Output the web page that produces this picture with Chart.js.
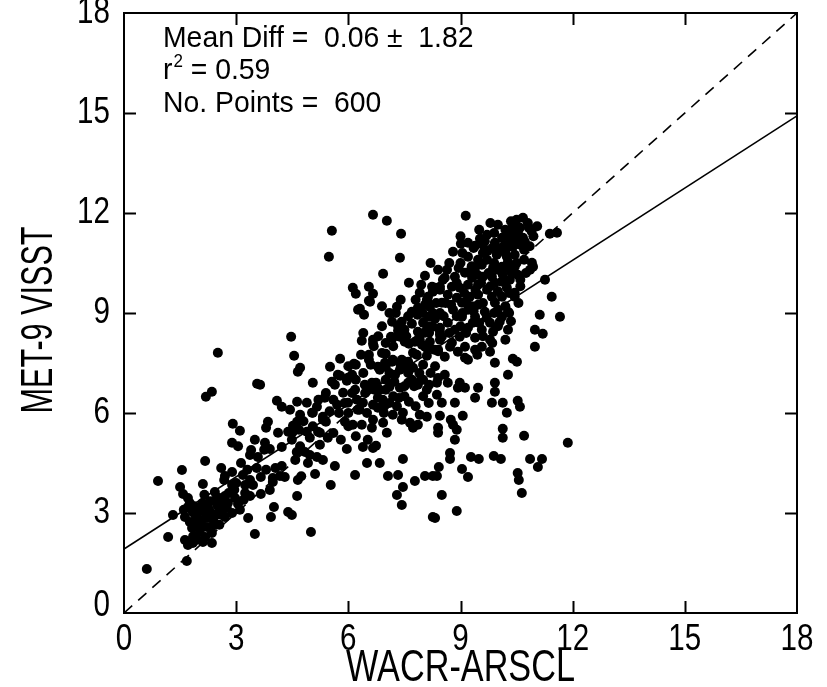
<!DOCTYPE html>
<html><head><meta charset="utf-8">
<script src="https://cdn.jsdelivr.net/npm/chart.js@4.4.1/dist/chart.umd.min.js"></script>
<style>html,body{margin:0;padding:0;background:#fff}#wrap{width:827px;height:687px}</style>
</head><body><div id="wrap"><canvas id="c" width="827" height="687"></canvas></div>
<script>
// ---- data (WACR-ARSCL vs MET-9 VISST) ----
const xTickValues = [0, 3, 6, 9, 12, 15, 18];
const yTickValues = [0, 3, 6, 9, 12, 15, 18];
const xTitle = 'WACR-ARSCL';
const yTitle = 'MET-9 VISST';
const statMeanDiff = 'Mean Diff =  0.06 \u00b1  1.82';
const statR2 = '0.59';
const statPoints = 'No. Points =  600';
const fitIntercept = 1.92;
const fitSlope = 0.722;
const lineX = [0, 18];

const lowCluster = [
[0.61,1.32],[0.91,3.96],[1.68,1.56],[1.18,2.28],[1.63,2.19],[1.71,2.04],[1.84,2.10],[2.11,2.13],[2.35,2.10],
[1.55,4.29],[2.17,4.56],[2.11,3.87],[1.50,3.78],[1.58,3.57],
[2.19,6.49],[2.35,6.64],[2.51,7.81],[3.56,6.88],[3.64,6.85],[4.09,6.37],[4.22,6.19],
[2.91,5.68],[3.10,5.47],[2.89,5.11],[3.85,5.74],[3.80,5.56],[4.12,5.41],[3.77,5.11],[3.90,4.92],[4.22,4.98],[3.40,4.89],[3.37,4.74],[3.58,4.68],[3.13,4.50],
[2.70,4.11],[2.89,4.23],[2.68,3.99],[3.18,4.14],[3.37,3.99],[3.66,4.08],[3.98,4.05],[4.22,4.41],[4.17,4.11],[4.05,4.35],
[2.89,3.84],[3.24,3.84],[3.45,3.84],[3.24,3.60],
[2.43,3.63],[2.70,3.51],[2.65,3.30],[2.97,3.45],[3.05,3.27],[3.37,3.51],[3.66,3.57],[3.90,3.69],[3.98,3.93],
[1.71,3.45],[1.76,3.30],[1.71,3.18],[1.31,2.94],[1.63,2.88],[1.84,3.03],[1.95,2.88],[2.03,3.15],[2.03,2.73],[1.90,2.64],
[2.22,3.00],[2.25,3.15],[2.41,2.88],[2.41,2.70],[2.49,3.24],[2.51,3.00],[2.65,3.12],[2.70,2.88],[2.78,3.30],[2.89,3.00],
[2.17,2.85],[1.76,2.73],[1.82,2.55],[2.03,2.43],[2.22,2.58],[2.43,2.64],[2.35,2.40],[2.17,2.28],[3.50,2.37],[4.01,3.18],
[3.93,2.88],[3.32,2.85],[1.95,2.20],[2.30,3.35],[2.55,3.45],[2.10,3.30],[1.88,3.20],[2.60,2.95],[3.10,3.10],[2.80,3.60],
[2.95,3.70],[3.20,3.40],
[1.90,2.95],[2.10,2.60],[2.30,2.85],[2.55,2.65],[2.00,3.05],[2.30,3.05],[2.60,3.30],[2.15,3.55],[1.60,3.10],[1.85,2.30],
[2.45,3.40],[2.75,3.15],[3.00,3.90],[3.30,4.30],[3.55,4.35],[3.80,4.30],[3.50,5.20],[2.60,4.35],[3.05,5.00],[3.75,4.90]
];

const midLower = [
[5.05,6.91],[4.65,7.24],[5.56,6.94],[5.72,7.15],[5.99,7.06],[6.10,7.15],[5.64,6.85],[5.86,6.61],[6.44,6.85],[6.63,6.91],
[6.52,6.70],[6.18,6.70],[5.37,6.46],[4.89,6.31],[5.16,6.19],[5.70,6.25],[5.99,6.31],[6.23,6.40],[6.39,6.31],[6.66,6.25],
[6.79,6.46],[6.92,6.40],[6.79,6.16],[6.97,6.22],[4.44,6.10],[4.71,5.95],[5.03,6.01],[5.32,5.80],[5.40,5.74],[5.91,5.74],
[6.12,5.65],[6.36,5.65],[6.66,5.80],[6.63,5.56],[6.93,5.71],[7.03,5.41],[7.19,5.95],[7.46,6.01],[7.43,5.80],[7.65,5.71],
[7.73,5.56],[7.86,5.65],[7.91,5.95],[8.10,5.89],[8.15,6.30],[7.62,6.34],[7.38,6.76],[7.60,6.91],[7.86,6.85],[8.16,6.85],
[4.39,5.44],[4.52,5.62],[4.49,5.20],[4.68,5.50],[4.89,5.44],[5.19,5.44],[5.45,5.26],[5.24,5.05],[4.97,5.26],[4.84,4.83],
[4.97,4.74],[5.16,4.68],[4.92,4.50],[5.32,4.59],[5.64,4.41],[4.62,4.83],[4.58,4.59],[4.71,5.00],[5.96,4.92],[6.39,4.98],
[6.52,5.20],[6.66,4.95],[6.74,5.02],[6.50,4.50],[6.84,4.50],[7.46,4.62],[5.11,4.17],[6.18,4.14],[7.06,4.11],[7.33,4.14],
[7.78,3.96],[8.05,4.11],[8.26,4.11],[4.30,4.08],[4.65,3.99],[4.74,4.10],[5.53,3.84],[7.46,3.78],[7.30,3.54],[7.43,3.24],
[4.63,3.51],[4.39,3.03],[4.49,2.94],[5.00,2.43],[8.26,2.88],
[4.63,6.34],[4.63,5.74],[4.52,5.44],[5.05,6.01],[5.32,5.89],[5.24,5.41],
[5.60,6.40],[5.90,6.30],[6.10,6.60],[5.40,6.60],[6.00,6.00],[6.30,6.10],[6.50,6.00],[7.00,6.70],[7.20,6.50],[7.50,6.50],
[7.80,6.20],[8.00,6.50],[7.30,6.20],
[5.50,6.05],[5.75,6.00],[6.00,5.60],[6.25,6.10],[6.45,6.60],[6.70,6.70],[6.95,6.00],[7.10,6.30],[7.35,6.45],[5.20,6.40],
[4.80,5.75],[5.60,5.40],[5.05,5.60],[5.80,5.20],[6.20,5.30]
];

const midUpper = [
[4.47,8.29],[4.55,7.72],[5.78,7.63],[5.51,7.39],[4.71,7.36],
[6.36,8.17],[6.66,8.20],[6.66,8.08],[6.34,7.75],[6.55,7.75],[6.15,7.48],[7.00,7.78],[7.30,9.19],[7.27,9.00],[7.43,8.74],
[7.70,9.04],[7.70,8.68],[7.89,9.10],[7.14,8.29],[7.38,8.29],[7.33,8.47],[7.86,8.44],[7.86,8.20],[7.97,8.05],[7.62,8.08],
[8.00,8.71],[8.13,8.89],[8.24,9.79],[8.26,9.64],[8.13,9.49],[8.13,9.31],[8.05,8.41],[8.13,7.96],[7.73,7.81],[7.43,7.60],
[6.98,7.51],[6.79,7.39],[7.17,7.54],
[6.58,9.34],[6.31,9.13],[7.33,8.60],[7.86,9.16],[8.05,9.25],[8.32,8.83],[8.45,8.35],[7.17,8.74],[7.94,8.38],[8.16,8.41],
[7.19,8.26],[7.51,8.14],[7.78,8.14],[8.10,7.95],[8.30,7.90],[6.68,8.00],[6.55,7.60],[6.20,7.45],[6.00,7.40],[7.19,7.60],
[7.40,7.45],[7.60,7.54],[7.83,7.75],[8.10,7.72],[8.40,7.85],[6.84,7.30],[7.00,7.38],[7.38,7.30],[7.50,7.40],[7.73,7.36],
[7.90,7.20],[8.00,7.45],[8.32,7.40],[8.20,7.20],[5.78,7.12],[5.96,6.97],[6.74,6.91],[7.00,7.00],[6.84,6.70],[7.10,6.79],
[7.23,6.94],[7.50,6.80],[7.76,6.80],[7.94,7.00],[8.10,6.70],[8.40,7.05],
[6.66,11.95],[7.03,11.77],[7.41,11.38],[5.56,11.47],[5.48,10.69],[7.38,10.66],[6.93,10.18],[8.05,10.12],[7.62,9.91],
[6.12,9.76],[6.20,9.58],[6.55,9.79],[6.66,9.58],[6.55,9.37],[6.26,9.10],[6.42,8.95],[7.91,9.61],
[8.10,9.40],[8.18,9.19],[7.99,9.00],[8.26,9.00],[8.32,9.76],[8.45,9.70],[8.53,10.00],[8.26,8.59],[8.10,8.50],[8.45,8.44],
[7.91,8.20],[8.18,8.14],[8.05,7.99],[8.45,8.20],[8.72,7.99],
[7.20,8.00],[7.50,8.50],[7.00,8.10],[7.60,8.90],[7.40,9.40],[7.10,9.00],[6.90,8.60],[6.80,8.30],[7.60,7.20],[6.90,7.80],
[7.10,7.20],[6.60,7.45],[6.40,7.20],[6.20,7.00],[8.20,8.60],[8.35,9.30],[7.80,9.40],[7.95,9.85],[8.40,10.30],[8.20,10.50],
[6.90,9.20],[6.40,8.40],[7.55,8.30],[8.00,7.00],[7.70,7.00],[7.25,7.15],[7.85,8.95]
];

const highCluster = [
[9.14,11.92],[10.67,11.86],[10.00,11.65],[10.83,11.56],[10.59,11.56],[10.40,11.44],[10.29,11.35],[9.71,11.35],[10.67,11.26],[10.45,11.20],
[10.11,11.26],[9.52,11.23],[9.20,11.11],[9.01,11.08],[9.39,11.02],[9.60,11.05],[9.92,11.11],[10.32,11.14],[10.72,11.14],[8.80,10.84],
[10.05,10.90],[10.24,10.96],[10.40,10.99],[9.73,10.87],[9.97,10.75],[10.24,10.69],[10.45,10.75],[9.20,10.69],[9.47,10.60],[10.27,10.54],
[10.11,10.39],[10.91,10.51],[10.94,10.39],[10.86,10.30],[8.64,10.30],[9.39,10.36],[9.71,10.60],[9.57,10.45],[9.87,10.36],[10.45,10.39],
[9.12,10.21],[8.85,10.09],[8.58,10.06],[9.31,10.06],[9.60,10.09],[9.84,10.09],[10.13,10.15],[10.37,10.21],[10.53,10.15],[10.32,10.00],
[10.11,9.94],[9.92,9.91],[9.47,9.85],[9.20,9.85],[8.45,9.79],[8.77,9.79],[8.98,9.76],[9.71,9.70],[10.24,9.76],[11.26,10.00],
[9.47,9.55],[9.25,9.49],[8.66,9.55],[8.90,9.46],[9.84,9.49],[10.45,9.61],[10.45,9.49],[10.11,9.49],[11.44,9.49],[8.50,9.31],
[9.04,9.31],[9.47,9.25],[9.92,9.31],[8.80,9.10],[9.20,9.10],[9.65,9.04],[8.45,9.00],[9.04,8.89],[9.39,8.89],[10.11,8.89],
[11.12,8.95],[11.66,8.89],[8.66,8.71],[9.33,8.71],[9.79,8.71],[10.05,8.74],[8.45,8.56],[8.85,8.50],[9.20,8.56],[9.57,8.50],
[9.87,8.44],[10.27,8.50],[10.99,8.50],[11.20,8.38],[8.50,8.29],[8.98,8.29],[9.39,8.26],[9.79,8.20],[8.77,8.11],[9.12,7.99],
[9.57,7.99],[10.99,7.99],[8.40,7.90],[8.93,7.84],[9.39,7.90],[9.79,7.84],[8.58,7.69],[9.12,7.66],[9.92,7.51],[10.40,7.63],
[10.51,7.54],[9.20,7.60],[11.39,11.38],[11.58,11.41],[10.27,9.04],[10.35,8.75],
[9.00,10.50],[9.30,10.40],[9.60,10.80],[9.90,10.50],[10.20,10.80],[10.50,10.50],[10.70,10.90],[9.10,9.60],[9.40,9.70],[9.80,9.80],
[10.00,10.30],[10.60,10.00],[10.70,10.60],[8.90,9.90],[9.30,9.20],[9.60,9.30],[10.20,9.20],[10.30,9.00],[9.00,8.60],[9.50,8.70],
[9.90,9.00],[10.40,11.60],[10.80,11.70],[10.50,11.80],[10.20,11.50],[9.90,11.40],[8.70,10.50],[9.00,11.30],[8.60,9.30],[8.90,8.90],
[9.05,10.80],[9.35,10.95],[9.65,11.15],[9.85,10.95],[10.15,11.00],[10.55,11.35],[10.85,11.00],[10.95,11.30],[9.45,10.15],[9.75,10.20],
[10.00,9.65],[10.30,9.60],[10.60,9.80],[10.75,10.20],[9.15,9.35],[9.35,9.05],[9.70,8.85],[10.00,8.60],[9.15,8.40],[9.60,8.30],
[8.75,9.25],[8.55,8.90],[9.85,8.10],[10.20,8.20],[9.45,7.75],[8.70,8.40],[9.05,9.00],[10.55,9.30],[10.00,9.10],[9.55,9.90],
[8.95,10.35],[9.25,10.25],[10.60,11.05],[10.20,10.35],[9.80,11.70],[10.90,11.45],[11.05,11.60],[10.35,11.75],[9.50,11.50]
];

const lowRight = [
[10.27,7.15],[9.92,6.91],[9.92,6.64],[9.47,6.76],[9.39,6.46],[9.84,6.31],[10.13,6.31],[10.53,6.37],[10.59,6.19],[10.24,6.01],
[10.13,5.53],[10.13,5.26],[10.70,5.32],[11.87,5.11],[9.06,5.92],[8.74,5.80],[8.80,5.65],[8.90,5.50],[8.85,5.20],[8.45,5.92],
[8.40,5.56],[8.40,5.41],[8.72,4.80],[8.72,4.62],[9.28,4.68],[9.49,4.62],[9.89,4.71],[10.08,4.62],[10.86,4.62],[11.18,4.62],
[11.07,4.38],[10.53,4.20],[10.56,3.99],[10.64,3.60],[9.04,4.32],[9.20,4.08],[8.42,4.38],[8.37,4.11],[8.50,3.54],[8.90,3.06],
[8.32,2.85],[8.93,6.76],[9.12,6.76],[8.98,6.91],[8.66,6.91],[8.58,7.15],[8.37,6.91],[8.50,6.31],[8.85,6.31],[8.37,6.55]
];

// ---- build datasets ----
const scatterPts = [].concat(lowCluster, midLower, midUpper, highCluster, lowRight).map(p => ({x: p[0], y: p[1]}));
const oneToOne = lineX.map(v => ({x: v, y: v}));
const fitLine = lineX.map(v => ({x: v, y: fitIntercept + fitSlope * v}));

const FONT = '"Liberation Sans", Arial, Helvetica, sans-serif';

function drawText(ctx, txt, x, y, size, opts) {
  ctx.save();
  ctx.translate(x, y);
  if (opts.rot) ctx.rotate(opts.rot);
  ctx.font = size + 'px ' + FONT;
  let sx = opts.sx || 1;
  if (opts.width) sx = opts.width / ctx.measureText(txt).width;
  ctx.scale(sx, 1);
  ctx.textAlign = opts.align || 'left';
  ctx.textBaseline = opts.baseline || 'alphabetic';
  ctx.fillStyle = '#000';
  ctx.fillText(txt, 0, 0);
  const w = ctx.measureText(txt).width * sx;
  ctx.restore();
  return w;
}

const framePlugin = {
  id: 'framePlugin',
  afterDraw(chart) {
    const ctx = chart.ctx, ca = chart.chartArea;
    const xs = chart.scales.x, ys = chart.scales.y;
    ctx.save();
    ctx.strokeStyle = '#000';
    ctx.lineWidth = 2;
    ctx.strokeRect(ca.left, ca.top, ca.right - ca.left, ca.bottom - ca.top);
    const tl = 12;
    ctx.beginPath();
    xs.ticks.forEach(t => {
      const px = Math.round(xs.getPixelForValue(t.value)) + 0.5;
      if (t.value === xs.min || t.value === xs.max) return;
      ctx.moveTo(px, ca.bottom); ctx.lineTo(px, ca.bottom - tl);
      ctx.moveTo(px, ca.top); ctx.lineTo(px, ca.top + tl);
    });
    ys.ticks.forEach(t => {
      const py = Math.round(ys.getPixelForValue(t.value)) + 0.5;
      if (t.value === ys.min || t.value === ys.max) return;
      ctx.moveTo(ca.left, py); ctx.lineTo(ca.left + tl, py);
      ctx.moveTo(ca.right, py); ctx.lineTo(ca.right - tl, py);
    });
    ctx.stroke();
    ctx.restore();

    // tick labels
    xs.ticks.forEach(t => {
      drawText(ctx, String(t.value), xs.getPixelForValue(t.value), ca.bottom + 8, 37, {align: 'center', baseline: 'top', sx: 0.8});
    });
    ys.ticks.forEach(t => {
      let py = ys.getPixelForValue(t.value);
      if (t.value === ys.min) py -= 7;
      drawText(ctx, String(t.value), ca.left - 14, py, 37, {align: 'right', baseline: 'middle', sx: 0.8});
    });
    // axis titles
    drawText(ctx, xTitle, (ca.left + ca.right) / 2, 669, 44, {align: 'center', baseline: 'middle', width: 229});
    drawText(ctx, yTitle, 40, 320, 44, {align: 'center', baseline: 'middle', width: 187, rot: -Math.PI / 2});

    // statistics
    const lx = 163;
    drawText(ctx, statMeanDiff, lx, 47, 30, {sx: 0.945});
    let w = drawText(ctx, 'r', lx, 79, 30, {sx: 0.945});
    let w2 = drawText(ctx, '2', lx + w + 1, 67, 18, {sx: 0.945});
    drawText(ctx, ' = ' + statR2, lx + w + w2 + 1, 79, 30, {sx: 0.945});
    drawText(ctx, statPoints, lx, 112, 30, {sx: 0.945});
  }
};

new Chart(document.getElementById('c'), {
  type: 'scatter',
  data: {
    datasets: [
      {type: 'line', data: oneToOne, borderColor: '#000', borderWidth: 1.6, borderDash: [11, 8], pointRadius: 0, fill: false, showLine: true},
      {type: 'line', data: fitLine, borderColor: '#000', borderWidth: 1.6, pointRadius: 0, fill: false, showLine: true},
      {data: scatterPts, pointRadius: 5, pointBackgroundColor: '#000', pointBorderWidth: 0, pointBorderColor: '#000'}
    ]
  },
  options: {
    responsive: false,
    animation: false,
    devicePixelRatio: 1,
    events: [],
    layout: {padding: {left: 0, right: 30, top: 13, bottom: 0}},
    plugins: {legend: {display: false}, tooltip: {enabled: false}},
    scales: {
      x: {
        type: 'linear', min: 0, max: 18,
        afterBuildTicks: s => { s.ticks = xTickValues.map(v => ({value: v})); },
        ticks: {display: false},
        grid: {display: false}, border: {display: false},
        afterFit: s => { s.height = 74; }
      },
      y: {
        type: 'linear', min: 0, max: 18,
        afterBuildTicks: s => { s.ticks = yTickValues.map(v => ({value: v})); },
        ticks: {display: false},
        grid: {display: false}, border: {display: false},
        afterFit: s => { s.width = 124; }
      }
    }
  },
  plugins: [framePlugin]
});
</script>
</body></html>
